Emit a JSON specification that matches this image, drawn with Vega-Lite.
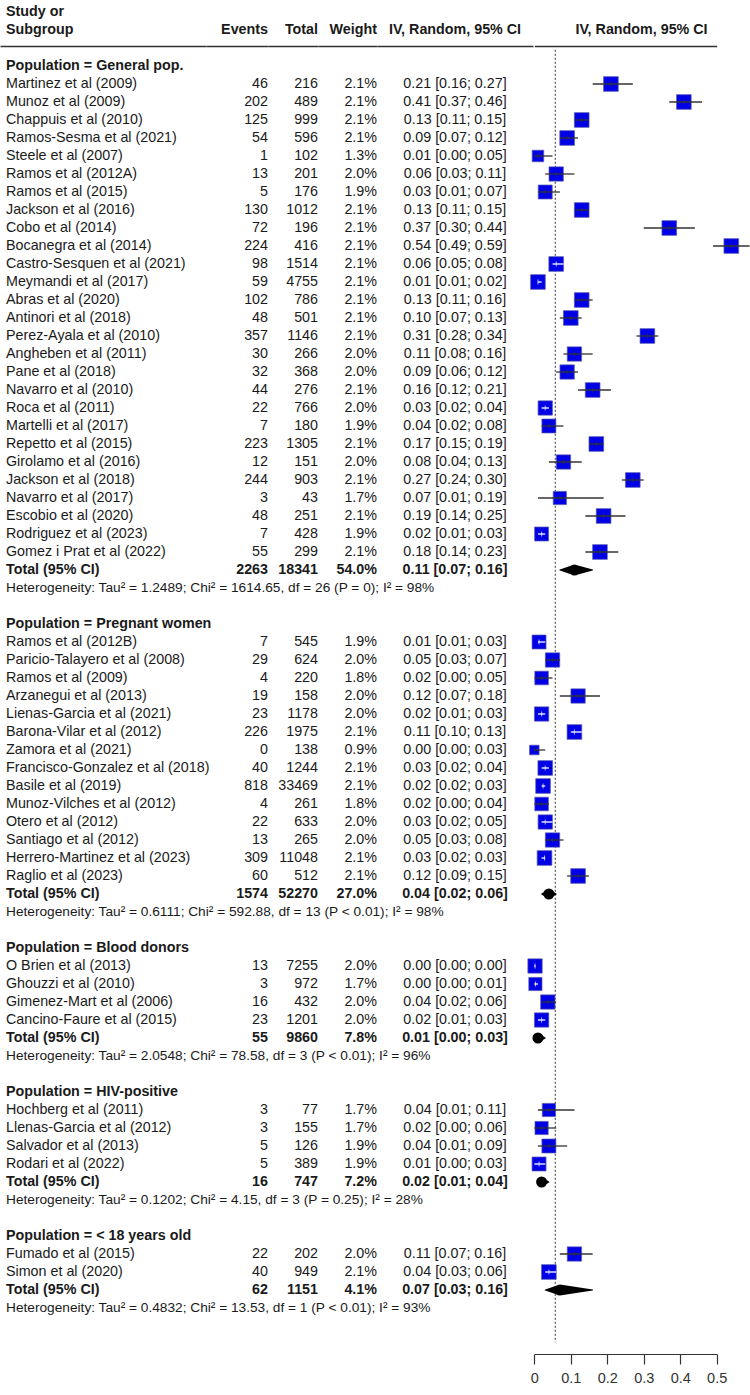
{
  "$schema": "https://vega.github.io/schema/vega-lite/v6.json",
  "padding": 0,
  "bounds": "flush",
  "spacing": 0,
  "config": {
    "view": {"stroke": null},
    "font": "Liberation Sans",
    "text": {"font": "Liberation Sans", "fontSize": 14.3, "color": "#1a1a1a", "baseline": "middle"},
    "concat": {"spacing": 0}
  },
  "datasets": {
    "header": [
      {"row": -3, "study": "Study or"},
      {"row": -2, "study": "Subgroup", "events": "Events", "total": "Total", "weight": "Weight", "ci": "IV, Random, 95% CI", "plot": "IV, Random, 95% CI"}
    ],
    "table": [
      {"row": 0, "kind": "group", "label": "Population = General pop."},
      {"row": 1, "kind": "study", "label": "Martinez et al (2009)", "events": 46, "total": 216, "weight": 0.021, "ci": "0.21 [0.16; 0.27]", "est": 0.21, "lo": 0.16, "hi": 0.27},
      {"row": 2, "kind": "study", "label": "Munoz et al (2009)", "events": 202, "total": 489, "weight": 0.021, "ci": "0.41 [0.37; 0.46]", "est": 0.41, "lo": 0.37, "hi": 0.46},
      {"row": 3, "kind": "study", "label": "Chappuis et al (2010)", "events": 125, "total": 999, "weight": 0.021, "ci": "0.13 [0.11; 0.15]", "est": 0.13, "lo": 0.11, "hi": 0.15},
      {"row": 4, "kind": "study", "label": "Ramos-Sesma et al (2021)", "events": 54, "total": 596, "weight": 0.021, "ci": "0.09 [0.07; 0.12]", "est": 0.09, "lo": 0.07, "hi": 0.12},
      {"row": 5, "kind": "study", "label": "Steele et al (2007)", "events": 1, "total": 102, "weight": 0.013, "ci": "0.01 [0.00; 0.05]", "est": 0.01, "lo": 0.0, "hi": 0.05},
      {"row": 6, "kind": "study", "label": "Ramos et al (2012A)", "events": 13, "total": 201, "weight": 0.02, "ci": "0.06 [0.03; 0.11]", "est": 0.06, "lo": 0.03, "hi": 0.11},
      {"row": 7, "kind": "study", "label": "Ramos et al (2015)", "events": 5, "total": 176, "weight": 0.019, "ci": "0.03 [0.01; 0.07]", "est": 0.03, "lo": 0.01, "hi": 0.07},
      {"row": 8, "kind": "study", "label": "Jackson et al (2016)", "events": 130, "total": 1012, "weight": 0.021, "ci": "0.13 [0.11; 0.15]", "est": 0.13, "lo": 0.11, "hi": 0.15},
      {"row": 9, "kind": "study", "label": "Cobo et al (2014)", "events": 72, "total": 196, "weight": 0.021, "ci": "0.37 [0.30; 0.44]", "est": 0.37, "lo": 0.30, "hi": 0.44},
      {"row": 10, "kind": "study", "label": "Bocanegra et al (2014)", "events": 224, "total": 416, "weight": 0.021, "ci": "0.54 [0.49; 0.59]", "est": 0.54, "lo": 0.49, "hi": 0.59},
      {"row": 11, "kind": "study", "label": "Castro-Sesquen et al (2021)", "events": 98, "total": 1514, "weight": 0.021, "ci": "0.06 [0.05; 0.08]", "est": 0.06, "lo": 0.05, "hi": 0.08},
      {"row": 12, "kind": "study", "label": "Meymandi et al (2017)", "events": 59, "total": 4755, "weight": 0.021, "ci": "0.01 [0.01; 0.02]", "est": 0.01, "lo": 0.01, "hi": 0.02},
      {"row": 13, "kind": "study", "label": "Abras et al (2020)", "events": 102, "total": 786, "weight": 0.021, "ci": "0.13 [0.11; 0.16]", "est": 0.13, "lo": 0.11, "hi": 0.16},
      {"row": 14, "kind": "study", "label": "Antinori et al (2018)", "events": 48, "total": 501, "weight": 0.021, "ci": "0.10 [0.07; 0.13]", "est": 0.10, "lo": 0.07, "hi": 0.13},
      {"row": 15, "kind": "study", "label": "Perez-Ayala et al (2010)", "events": 357, "total": 1146, "weight": 0.021, "ci": "0.31 [0.28; 0.34]", "est": 0.31, "lo": 0.28, "hi": 0.34},
      {"row": 16, "kind": "study", "label": "Angheben et al (2011)", "events": 30, "total": 266, "weight": 0.02, "ci": "0.11 [0.08; 0.16]", "est": 0.11, "lo": 0.08, "hi": 0.16},
      {"row": 17, "kind": "study", "label": "Pane et al (2018)", "events": 32, "total": 368, "weight": 0.02, "ci": "0.09 [0.06; 0.12]", "est": 0.09, "lo": 0.06, "hi": 0.12},
      {"row": 18, "kind": "study", "label": "Navarro et al (2010)", "events": 44, "total": 276, "weight": 0.021, "ci": "0.16 [0.12; 0.21]", "est": 0.16, "lo": 0.12, "hi": 0.21},
      {"row": 19, "kind": "study", "label": "Roca et al (2011)", "events": 22, "total": 766, "weight": 0.02, "ci": "0.03 [0.02; 0.04]", "est": 0.03, "lo": 0.02, "hi": 0.04},
      {"row": 20, "kind": "study", "label": "Martelli et al (2017)", "events": 7, "total": 180, "weight": 0.019, "ci": "0.04 [0.02; 0.08]", "est": 0.04, "lo": 0.02, "hi": 0.08},
      {"row": 21, "kind": "study", "label": "Repetto et al (2015)", "events": 223, "total": 1305, "weight": 0.021, "ci": "0.17 [0.15; 0.19]", "est": 0.17, "lo": 0.15, "hi": 0.19},
      {"row": 22, "kind": "study", "label": "Girolamo et al (2016)", "events": 12, "total": 151, "weight": 0.02, "ci": "0.08 [0.04; 0.13]", "est": 0.08, "lo": 0.04, "hi": 0.13},
      {"row": 23, "kind": "study", "label": "Jackson et al (2018)", "events": 244, "total": 903, "weight": 0.021, "ci": "0.27 [0.24; 0.30]", "est": 0.27, "lo": 0.24, "hi": 0.30},
      {"row": 24, "kind": "study", "label": "Navarro et al (2017)", "events": 3, "total": 43, "weight": 0.017, "ci": "0.07 [0.01; 0.19]", "est": 0.07, "lo": 0.01, "hi": 0.19},
      {"row": 25, "kind": "study", "label": "Escobio et al (2020)", "events": 48, "total": 251, "weight": 0.021, "ci": "0.19 [0.14; 0.25]", "est": 0.19, "lo": 0.14, "hi": 0.25},
      {"row": 26, "kind": "study", "label": "Rodriguez et al (2023)", "events": 7, "total": 428, "weight": 0.019, "ci": "0.02 [0.01; 0.03]", "est": 0.02, "lo": 0.01, "hi": 0.03},
      {"row": 27, "kind": "study", "label": "Gomez i Prat et al (2022)", "events": 55, "total": 299, "weight": 0.021, "ci": "0.18 [0.14; 0.23]", "est": 0.18, "lo": 0.14, "hi": 0.23},
      {"row": 28, "kind": "total", "label": "Total (95% CI)", "events": 2263, "total": 18341, "weight": 0.54, "ci": "0.11 [0.07; 0.16]", "est": 0.11, "lo": 0.07, "hi": 0.16},
      {"row": 29, "kind": "het", "label": "Heterogeneity: Tau² = 1.2489; Chi² = 1614.65, df = 26 (P = 0); I² = 98%"},
      {"row": 31, "kind": "group", "label": "Population = Pregnant women"},
      {"row": 32, "kind": "study", "label": "Ramos et al (2012B)", "events": 7, "total": 545, "weight": 0.019, "ci": "0.01 [0.01; 0.03]", "est": 0.013, "lo": 0.01, "hi": 0.03},
      {"row": 33, "kind": "study", "label": "Paricio-Talayero et al (2008)", "events": 29, "total": 624, "weight": 0.02, "ci": "0.05 [0.03; 0.07]", "est": 0.05, "lo": 0.03, "hi": 0.07},
      {"row": 34, "kind": "study", "label": "Ramos et al (2009)", "events": 4, "total": 220, "weight": 0.018, "ci": "0.02 [0.00; 0.05]", "est": 0.02, "lo": 0.0, "hi": 0.05},
      {"row": 35, "kind": "study", "label": "Arzanegui et al (2013)", "events": 19, "total": 158, "weight": 0.02, "ci": "0.12 [0.07; 0.18]", "est": 0.12, "lo": 0.07, "hi": 0.18},
      {"row": 36, "kind": "study", "label": "Lienas-Garcia et al (2021)", "events": 23, "total": 1178, "weight": 0.02, "ci": "0.02 [0.01; 0.03]", "est": 0.02, "lo": 0.01, "hi": 0.03},
      {"row": 37, "kind": "study", "label": "Barona-Vilar et al (2012)", "events": 226, "total": 1975, "weight": 0.021, "ci": "0.11 [0.10; 0.13]", "est": 0.11, "lo": 0.10, "hi": 0.13},
      {"row": 38, "kind": "study", "label": "Zamora et al (2021)", "events": 0, "total": 138, "weight": 0.009, "ci": "0.00 [0.00; 0.03]", "est": 0.0, "lo": 0.0, "hi": 0.03},
      {"row": 39, "kind": "study", "label": "Francisco-Gonzalez et al (2018)", "events": 40, "total": 1244, "weight": 0.021, "ci": "0.03 [0.02; 0.04]", "est": 0.03, "lo": 0.02, "hi": 0.04},
      {"row": 40, "kind": "study", "label": "Basile et al (2019)", "events": 818, "total": 33469, "weight": 0.021, "ci": "0.02 [0.02; 0.03]", "est": 0.024, "lo": 0.02, "hi": 0.03},
      {"row": 41, "kind": "study", "label": "Munoz-Vilches et al (2012)", "events": 4, "total": 261, "weight": 0.018, "ci": "0.02 [0.00; 0.04]", "est": 0.02, "lo": 0.0, "hi": 0.04},
      {"row": 42, "kind": "study", "label": "Otero et al (2012)", "events": 22, "total": 633, "weight": 0.02, "ci": "0.03 [0.02; 0.05]", "est": 0.03, "lo": 0.02, "hi": 0.05},
      {"row": 43, "kind": "study", "label": "Santiago et al (2012)", "events": 13, "total": 265, "weight": 0.02, "ci": "0.05 [0.03; 0.08]", "est": 0.05, "lo": 0.03, "hi": 0.08},
      {"row": 44, "kind": "study", "label": "Herrero-Martinez  et al (2023)", "events": 309, "total": 11048, "weight": 0.021, "ci": "0.03 [0.02; 0.03]", "est": 0.028, "lo": 0.02, "hi": 0.03},
      {"row": 45, "kind": "study", "label": "Raglio et al (2023)", "events": 60, "total": 512, "weight": 0.021, "ci": "0.12 [0.09; 0.15]", "est": 0.12, "lo": 0.09, "hi": 0.15},
      {"row": 46, "kind": "total", "label": "Total (95% CI)", "events": 1574, "total": 52270, "weight": 0.27, "ci": "0.04 [0.02; 0.06]", "est": 0.04, "lo": 0.02, "hi": 0.06},
      {"row": 47, "kind": "het", "label": "Heterogeneity: Tau² = 0.6111; Chi² = 592.88, df = 13 (P < 0.01); I² = 98%"},
      {"row": 49, "kind": "group", "label": "Population = Blood donors"},
      {"row": 50, "kind": "study", "label": "O Brien et al (2013)", "events": 13, "total": 7255, "weight": 0.02, "ci": "0.00 [0.00; 0.00]", "est": 0.002, "lo": 0.0, "hi": 0.003},
      {"row": 51, "kind": "study", "label": "Ghouzzi et al (2010)", "events": 3, "total": 972, "weight": 0.017, "ci": "0.00 [0.00; 0.01]", "est": 0.003, "lo": 0.0, "hi": 0.01},
      {"row": 52, "kind": "study", "label": "Gimenez-Mart et al (2006)", "events": 16, "total": 432, "weight": 0.02, "ci": "0.04 [0.02; 0.06]", "est": 0.037, "lo": 0.02, "hi": 0.06},
      {"row": 53, "kind": "study", "label": "Cancino-Faure et al (2015)", "events": 23, "total": 1201, "weight": 0.02, "ci": "0.02 [0.01; 0.03]", "est": 0.02, "lo": 0.01, "hi": 0.03},
      {"row": 54, "kind": "total", "label": "Total (95% CI)", "events": 55, "total": 9860, "weight": 0.078, "ci": "0.01 [0.00; 0.03]", "est": 0.01, "lo": 0.0, "hi": 0.03},
      {"row": 55, "kind": "het", "label": "Heterogeneity: Tau² = 2.0548; Chi² = 78.58, df = 3 (P < 0.01); I² = 96%"},
      {"row": 57, "kind": "group", "label": "Population = HIV-positive"},
      {"row": 58, "kind": "study", "label": "Hochberg et al (2011)", "events": 3, "total": 77, "weight": 0.017, "ci": "0.04 [0.01; 0.11]", "est": 0.04, "lo": 0.01, "hi": 0.11},
      {"row": 59, "kind": "study", "label": "Llenas-Garcia et al (2012)", "events": 3, "total": 155, "weight": 0.017, "ci": "0.02 [0.00; 0.06]", "est": 0.02, "lo": 0.0, "hi": 0.06},
      {"row": 60, "kind": "study", "label": "Salvador et al (2013)", "events": 5, "total": 126, "weight": 0.019, "ci": "0.04 [0.01; 0.09]", "est": 0.04, "lo": 0.01, "hi": 0.09},
      {"row": 61, "kind": "study", "label": "Rodari et al (2022)", "events": 5, "total": 389, "weight": 0.019, "ci": "0.01 [0.00; 0.03]", "est": 0.013, "lo": 0.0, "hi": 0.03},
      {"row": 62, "kind": "total", "label": "Total (95% CI)", "events": 16, "total": 747, "weight": 0.072, "ci": "0.02 [0.01; 0.04]", "est": 0.02, "lo": 0.01, "hi": 0.04},
      {"row": 63, "kind": "het", "label": "Heterogeneity: Tau² = 0.1202; Chi² = 4.15, df = 3 (P = 0.25); I² = 28%"},
      {"row": 65, "kind": "group", "label": "Population = < 18 years old"},
      {"row": 66, "kind": "study", "label": "Fumado et al (2015)", "events": 22, "total": 202, "weight": 0.02, "ci": "0.11 [0.07; 0.16]", "est": 0.11, "lo": 0.07, "hi": 0.16},
      {"row": 67, "kind": "study", "label": "Simon et al (2020)", "events": 40, "total": 949, "weight": 0.021, "ci": "0.04 [0.03; 0.06]", "est": 0.04, "lo": 0.03, "hi": 0.06},
      {"row": 68, "kind": "total", "label": "Total (95% CI)", "events": 62, "total": 1151, "weight": 0.041, "ci": "0.07 [0.03; 0.16]", "est": 0.07, "lo": 0.03, "hi": 0.16},
      {"row": 69, "kind": "het", "label": "Heterogeneity: Tau² = 0.4832; Chi² = 13.53, df = 1 (P < 0.01); I² = 93%"}
    ]
  },
  "hconcat": [
    {
      "width": 206, "height": 1354,
      "layer": [
        {"data": {"name": "header"}, "mark": {"type": "text", "align": "left", "fontWeight": "bold"}, "encoding": {"y": {"field": "row", "type": "quantitative", "scale": {"domain": [-1.1, 71], "range": [46.2, 1344], "nice": false, "zero": false}, "axis": {"values": [-1.1], "grid": true, "gridColor": "#333333", "gridWidth": 1.6, "domain": false, "ticks": false, "labels": false, "title": null}}, "x": {"value": 6}, "text": {"field": "study"}}},
        {"data": {"name": "table"}, "transform": [{"filter": "datum.kind == 'group' || datum.kind == 'total'"}], "mark": {"type": "text", "align": "left", "fontWeight": "bold"}, "encoding": {"y": {"field": "row", "type": "quantitative", "scale": {"domain": [-1.1, 71], "range": [46.2, 1344], "nice": false, "zero": false}}, "x": {"value": 6}, "text": {"field": "label"}}},
        {"data": {"name": "table"}, "transform": [{"filter": "datum.kind == 'study'"}], "mark": {"type": "text", "align": "left"}, "encoding": {"y": {"field": "row", "type": "quantitative", "scale": {"domain": [-1.1, 71], "range": [46.2, 1344], "nice": false, "zero": false}}, "x": {"value": 6}, "text": {"field": "label"}}},
        {"data": {"name": "table"}, "transform": [{"filter": "datum.kind == 'het'"}], "mark": {"type": "text", "align": "left", "fontSize": 13.7}, "encoding": {"y": {"field": "row", "type": "quantitative", "scale": {"domain": [-1.1, 71], "range": [46.2, 1344], "nice": false, "zero": false}}, "x": {"value": 6}, "text": {"field": "label"}}}
      ]
    },
    {
      "width": 62, "height": 1354,
      "layer": [
        {"data": {"name": "header"}, "transform": [{"filter": "datum.events"}], "mark": {"type": "text", "align": "right", "fontWeight": "bold"}, "encoding": {"y": {"field": "row", "type": "quantitative", "scale": {"domain": [-1.1, 71], "range": [46.2, 1344], "nice": false, "zero": false}, "axis": {"values": [-1.1], "grid": true, "gridColor": "#333333", "gridWidth": 1.6, "domain": false, "ticks": false, "labels": false, "title": null}}, "x": {"value": "width"}, "text": {"field": "events"}}},
        {"data": {"name": "table"}, "transform": [{"filter": "datum.kind == 'study'"}], "mark": {"type": "text", "align": "right"}, "encoding": {"y": {"field": "row", "type": "quantitative", "scale": {"domain": [-1.1, 71], "range": [46.2, 1344], "nice": false, "zero": false}}, "x": {"value": "width"}, "text": {"field": "events", "type": "nominal"}}},
        {"data": {"name": "table"}, "transform": [{"filter": "datum.kind == 'total'"}], "mark": {"type": "text", "align": "right", "fontWeight": "bold"}, "encoding": {"y": {"field": "row", "type": "quantitative", "scale": {"domain": [-1.1, 71], "range": [46.2, 1344], "nice": false, "zero": false}}, "x": {"value": "width"}, "text": {"field": "events", "type": "nominal"}}}
      ]
    },
    {
      "width": 50, "height": 1354,
      "layer": [
        {"data": {"name": "header"}, "transform": [{"filter": "datum.total"}], "mark": {"type": "text", "align": "right", "fontWeight": "bold"}, "encoding": {"y": {"field": "row", "type": "quantitative", "scale": {"domain": [-1.1, 71], "range": [46.2, 1344], "nice": false, "zero": false}, "axis": {"values": [-1.1], "grid": true, "gridColor": "#333333", "gridWidth": 1.6, "domain": false, "ticks": false, "labels": false, "title": null}}, "x": {"value": "width"}, "text": {"field": "total"}}},
        {"data": {"name": "table"}, "transform": [{"filter": "datum.kind == 'study'"}], "mark": {"type": "text", "align": "right"}, "encoding": {"y": {"field": "row", "type": "quantitative", "scale": {"domain": [-1.1, 71], "range": [46.2, 1344], "nice": false, "zero": false}}, "x": {"value": "width"}, "text": {"field": "total", "type": "nominal"}}},
        {"data": {"name": "table"}, "transform": [{"filter": "datum.kind == 'total'"}], "mark": {"type": "text", "align": "right", "fontWeight": "bold"}, "encoding": {"y": {"field": "row", "type": "quantitative", "scale": {"domain": [-1.1, 71], "range": [46.2, 1344], "nice": false, "zero": false}}, "x": {"value": "width"}, "text": {"field": "total", "type": "nominal"}}}
      ]
    },
    {
      "width": 59, "height": 1354,
      "layer": [
        {"data": {"name": "header"}, "transform": [{"filter": "datum.weight"}], "mark": {"type": "text", "align": "right", "fontWeight": "bold"}, "encoding": {"y": {"field": "row", "type": "quantitative", "scale": {"domain": [-1.1, 71], "range": [46.2, 1344], "nice": false, "zero": false}, "axis": {"values": [-1.1], "grid": true, "gridColor": "#333333", "gridWidth": 1.6, "domain": false, "ticks": false, "labels": false, "title": null}}, "x": {"value": "width"}, "text": {"field": "weight"}}},
        {"data": {"name": "table"}, "transform": [{"filter": "datum.kind == 'study'"}], "mark": {"type": "text", "align": "right"}, "encoding": {"y": {"field": "row", "type": "quantitative", "scale": {"domain": [-1.1, 71], "range": [46.2, 1344], "nice": false, "zero": false}}, "x": {"value": "width"}, "text": {"field": "weight", "type": "quantitative", "format": ".1%"}}},
        {"data": {"name": "table"}, "transform": [{"filter": "datum.kind == 'total'"}], "mark": {"type": "text", "align": "right", "fontWeight": "bold"}, "encoding": {"y": {"field": "row", "type": "quantitative", "scale": {"domain": [-1.1, 71], "range": [46.2, 1344], "nice": false, "zero": false}}, "x": {"value": "width"}, "text": {"field": "weight", "type": "quantitative", "format": ".1%"}}}
      ]
    },
    {
      "width": 156, "height": 1354,
      "layer": [
        {"data": {"name": "header"}, "transform": [{"filter": "datum.ci"}], "mark": {"type": "text", "align": "center", "fontWeight": "bold"}, "encoding": {"y": {"field": "row", "type": "quantitative", "scale": {"domain": [-1.1, 71], "range": [46.2, 1344], "nice": false, "zero": false}, "axis": {"values": [-1.1], "grid": true, "gridColor": "#333333", "gridWidth": 1.6, "domain": false, "ticks": false, "labels": false, "title": null}}, "text": {"field": "ci"}}},
        {"data": {"name": "table"}, "transform": [{"filter": "datum.kind == 'study'"}], "mark": {"type": "text", "align": "center"}, "encoding": {"y": {"field": "row", "type": "quantitative", "scale": {"domain": [-1.1, 71], "range": [46.2, 1344], "nice": false, "zero": false}}, "text": {"field": "ci"}}},
        {"data": {"name": "table"}, "transform": [{"filter": "datum.kind == 'total'"}], "mark": {"type": "text", "align": "center", "fontWeight": "bold"}, "encoding": {"y": {"field": "row", "type": "quantitative", "scale": {"domain": [-1.1, 71], "range": [46.2, 1344], "nice": false, "zero": false}}, "text": {"field": "ci"}}}
      ]
    },
    {
      "width": 217, "height": 1354,
      "layer": [
        {"data": {"name": "header"}, "transform": [{"filter": "datum.plot"}], "mark": {"type": "text", "align": "center", "fontWeight": "bold"}, "encoding": {"y": {"field": "row", "type": "quantitative", "scale": {"domain": [-1.1, 71], "range": [46.2, 1344], "nice": false, "zero": false}, "axis": {"values": [-1.1], "grid": true, "gridColor": "#333333", "gridWidth": 1.6, "domain": false, "ticks": false, "labels": false, "title": null}}, "text": {"field": "plot"}}},
        {"data": {"values": [{"ref": 0.0575}]}, "mark": {"type": "rule", "color": "#333333", "strokeWidth": 1, "strokeDash": [2, 2]}, "encoding": {"x": {"field": "ref", "type": "quantitative", "scale": {"domain": [0, 0.5], "range": [1.3, 183.7]}}, "y": {"datum": -0.9, "type": "quantitative", "scale": {"domain": [-1.1, 71], "range": [46.2, 1344], "nice": false, "zero": false}}, "y2": {"datum": 70.9}}},
        {"data": {"name": "table"}, "transform": [{"filter": "datum.kind == 'study'"}], "mark": {"type": "square", "filled": true, "fill": "#0000e6", "stroke": "#5c5cb0", "strokeWidth": 0.7, "opacity": 1},
          "encoding": {
            "y": {"field": "row", "type": "quantitative", "scale": {"domain": [-1.1, 71], "range": [46.2, 1344], "nice": false, "zero": false}},
            "x": {"field": "est", "type": "quantitative", "scale": {"domain": [0, 0.5], "range": [1.3, 183.7]},
              "axis": {"values": [0, 0.1, 0.2, 0.3, 0.4, 0.5], "format": "~g", "title": null, "grid": false, "labelFlush": false, "domainColor": "#333333", "domainWidth": 1.2, "tickColor": "#333333", "tickWidth": 1.2, "tickSize": 10, "labelFontSize": 14.5, "labelColor": "#333333", "labelPadding": 7, "labelFont": "Liberation Sans"}},
            "size": {"field": "weight", "type": "quantitative", "scale": {"domain": [0, 0.021], "range": [0, 216]}, "legend": null}
          }
        },
        {"data": {"name": "table"}, "transform": [{"filter": "datum.kind == 'study'"}], "mark": {"type": "rule", "strokeWidth": 1.3},
          "encoding": {
            "y": {"field": "row", "type": "quantitative", "scale": {"domain": [-1.1, 71], "range": [46.2, 1344], "nice": false, "zero": false}},
            "x": {"field": "lo", "type": "quantitative", "scale": {"domain": [0, 0.5], "range": [1.3, 183.7]}},
            "x2": {"field": "hi"},
            "color": {"condition": {"test": "datum.hi - datum.lo <= 0.031 && datum.weight > 0.012", "value": "#ffffff"}, "value": "#333333"}
          }
        },
        {"data": {"name": "table"}, "transform": [{"filter": "datum.kind == 'study'"}], "mark": {"type": "tick", "orient": "vertical", "size": 5, "thickness": 1},
          "encoding": {
            "y": {"field": "row", "type": "quantitative", "scale": {"domain": [-1.1, 71], "range": [46.2, 1344], "nice": false, "zero": false}},
            "x": {"field": "est", "type": "quantitative", "scale": {"domain": [0, 0.5], "range": [1.3, 183.7]}},
            "color": {"condition": {"test": "datum.hi - datum.lo <= 0.031 && datum.weight > 0.012", "value": "#ffffff"}, "value": "#333333"}
          }
        },
        {"data": {"name": "table"}, "transform": [{"filter": "datum.kind == 'total'"}, {"fold": ["lo", "est", "hi"], "as": ["pt", "val"]}], "mark": {"type": "trail", "color": "#000000"},
          "encoding": {
            "y": {"field": "row", "type": "quantitative", "scale": {"domain": [-1.1, 71], "range": [46.2, 1344], "nice": false, "zero": false}},
            "x": {"field": "val", "type": "quantitative", "scale": {"domain": [0, 0.5], "range": [1.3, 183.7]}},
            "detail": {"field": "row", "type": "nominal"},
            "order": {"field": "val", "type": "quantitative"},
            "size": {"field": "pt", "type": "nominal", "scale": {"type": "ordinal", "domain": ["lo", "est", "hi"], "range": [0, 11, 0]}, "legend": null}
          }
        }
      ]
    }
  ]
}
